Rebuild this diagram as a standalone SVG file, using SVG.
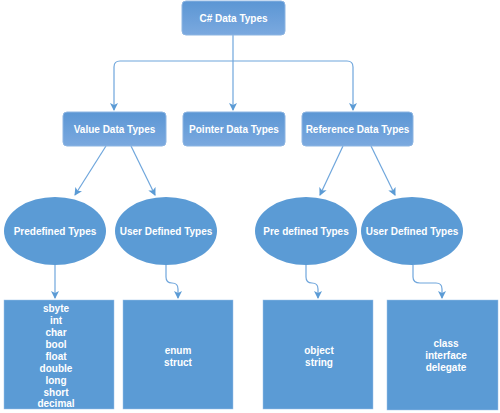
<svg xmlns="http://www.w3.org/2000/svg" width="500" height="413" viewBox="0 0 500 413">
<defs>
<linearGradient id="g" x1="0" y1="0" x2="0" y2="1">
<stop offset="0" stop-color="#5b96d4"/>
<stop offset="1" stop-color="#7ba9df"/>
</linearGradient>
<marker id="ah" markerWidth="8" markerHeight="8" refX="7" refY="4" orient="auto" markerUnits="userSpaceOnUse">
<path d="M0,0 L8,4 L0,8 L2,4 Z" fill="#5b9bd5"/>
</marker>
</defs>
<style>
.rb{fill:url(#g);stroke:#8db5e2;stroke-width:1}
.el{fill:#5b9bd5}
.bx{fill:#5b9bd5;stroke:#9cc2ea;stroke-width:0.5}
.t{font-family:"Liberation Sans",Arial,sans-serif;font-weight:bold;font-size:10px;fill:#ffffff;text-anchor:middle;dominant-baseline:central}
.c{fill:none;stroke:#6fa6dc;stroke-width:1.2;marker-end:url(#ah)}
</style>
<rect width="500" height="413" fill="#ffffff"/>
<g id="connectors">
<path class="c" d="M233,35 V110"/>
<path class="c" d="M233,61 H120 Q114,61 114,67 V110"/>
<path class="c" d="M233,61 H347 Q353,61 353,67 V110"/>
<path class="c" d="M106,146 L75,195"/>
<path class="c" d="M131,146 L155,195"/>
<path class="c" d="M343,146 L320,195"/>
<path class="c" d="M371,146 L395,195"/>
<path class="c" d="M55,265 V298"/>
<path class="c" d="M166,265 V277 Q166,283 172,283 Q178,283 178,289 V298"/>
<path class="c" d="M306,265 V277 Q306,283 312,283 Q318,283 318,289 V298"/>
<path class="c" d="M413,265 V277 Q413,283 420,283 H436 Q442,283 442,289 V298"/>
</g>
<g id="n-root"><rect class="rb" x="182" y="1" width="103" height="34" rx="4"/><text class="t" x="233.5" y="18">C# Data Types</text></g>
<g id="n-value"><rect class="rb" x="63" y="112" width="103" height="34" rx="4"/><text class="t" x="114.5" y="129">Value Data Types</text></g>
<g id="n-pointer"><rect class="rb" x="183" y="112" width="102" height="34" rx="4"/><text class="t" x="234" y="129">Pointer Data Types</text></g>
<g id="n-reference"><rect class="rb" x="302" y="112" width="111" height="34" rx="4"/><text class="t" x="357.5" y="129">Reference Data Types</text></g>
<g id="n-predef1"><ellipse class="el" cx="55" cy="231" rx="51" ry="34"/><text class="t" x="55" y="231">Predefined Types</text></g>
<g id="n-user1"><ellipse class="el" cx="166" cy="231" rx="51" ry="34"/><text class="t" x="166" y="231">User Defined Types</text></g>
<g id="n-predef2"><ellipse class="el" cx="306" cy="231" rx="51" ry="34"/><text class="t" x="306" y="231">Pre defined Types</text></g>
<g id="n-user2"><ellipse class="el" cx="412" cy="231" rx="51" ry="34"/><text class="t" x="412" y="231">User Defined Types</text></g>
<g id="n-list1"><rect class="bx" x="4" y="300" width="110" height="109"/>
<text class="t" x="56" y="308">sbyte</text>
<text class="t" x="56" y="320">int</text>
<text class="t" x="56" y="332">char</text>
<text class="t" x="56" y="344">bool</text>
<text class="t" x="56" y="356">float</text>
<text class="t" x="56" y="368">double</text>
<text class="t" x="56" y="380">long</text>
<text class="t" x="56" y="392">short</text>
<text class="t" x="56" y="403">decimal</text>
</g>
<g id="n-list2"><rect class="bx" x="123" y="300" width="110" height="109"/>
<text class="t" x="178" y="350">enum</text>
<text class="t" x="178" y="362">struct</text>
</g>
<g id="n-list3"><rect class="bx" x="263" y="300" width="110" height="109"/>
<text class="t" x="319" y="350">object</text>
<text class="t" x="319" y="362">string</text>
</g>
<g id="n-list4"><rect class="bx" x="387" y="300" width="111" height="110"/>
<text class="t" x="446" y="343">class</text>
<text class="t" x="446" y="355">interface</text>
<text class="t" x="446" y="367">delegate</text>
</g>
</svg>
